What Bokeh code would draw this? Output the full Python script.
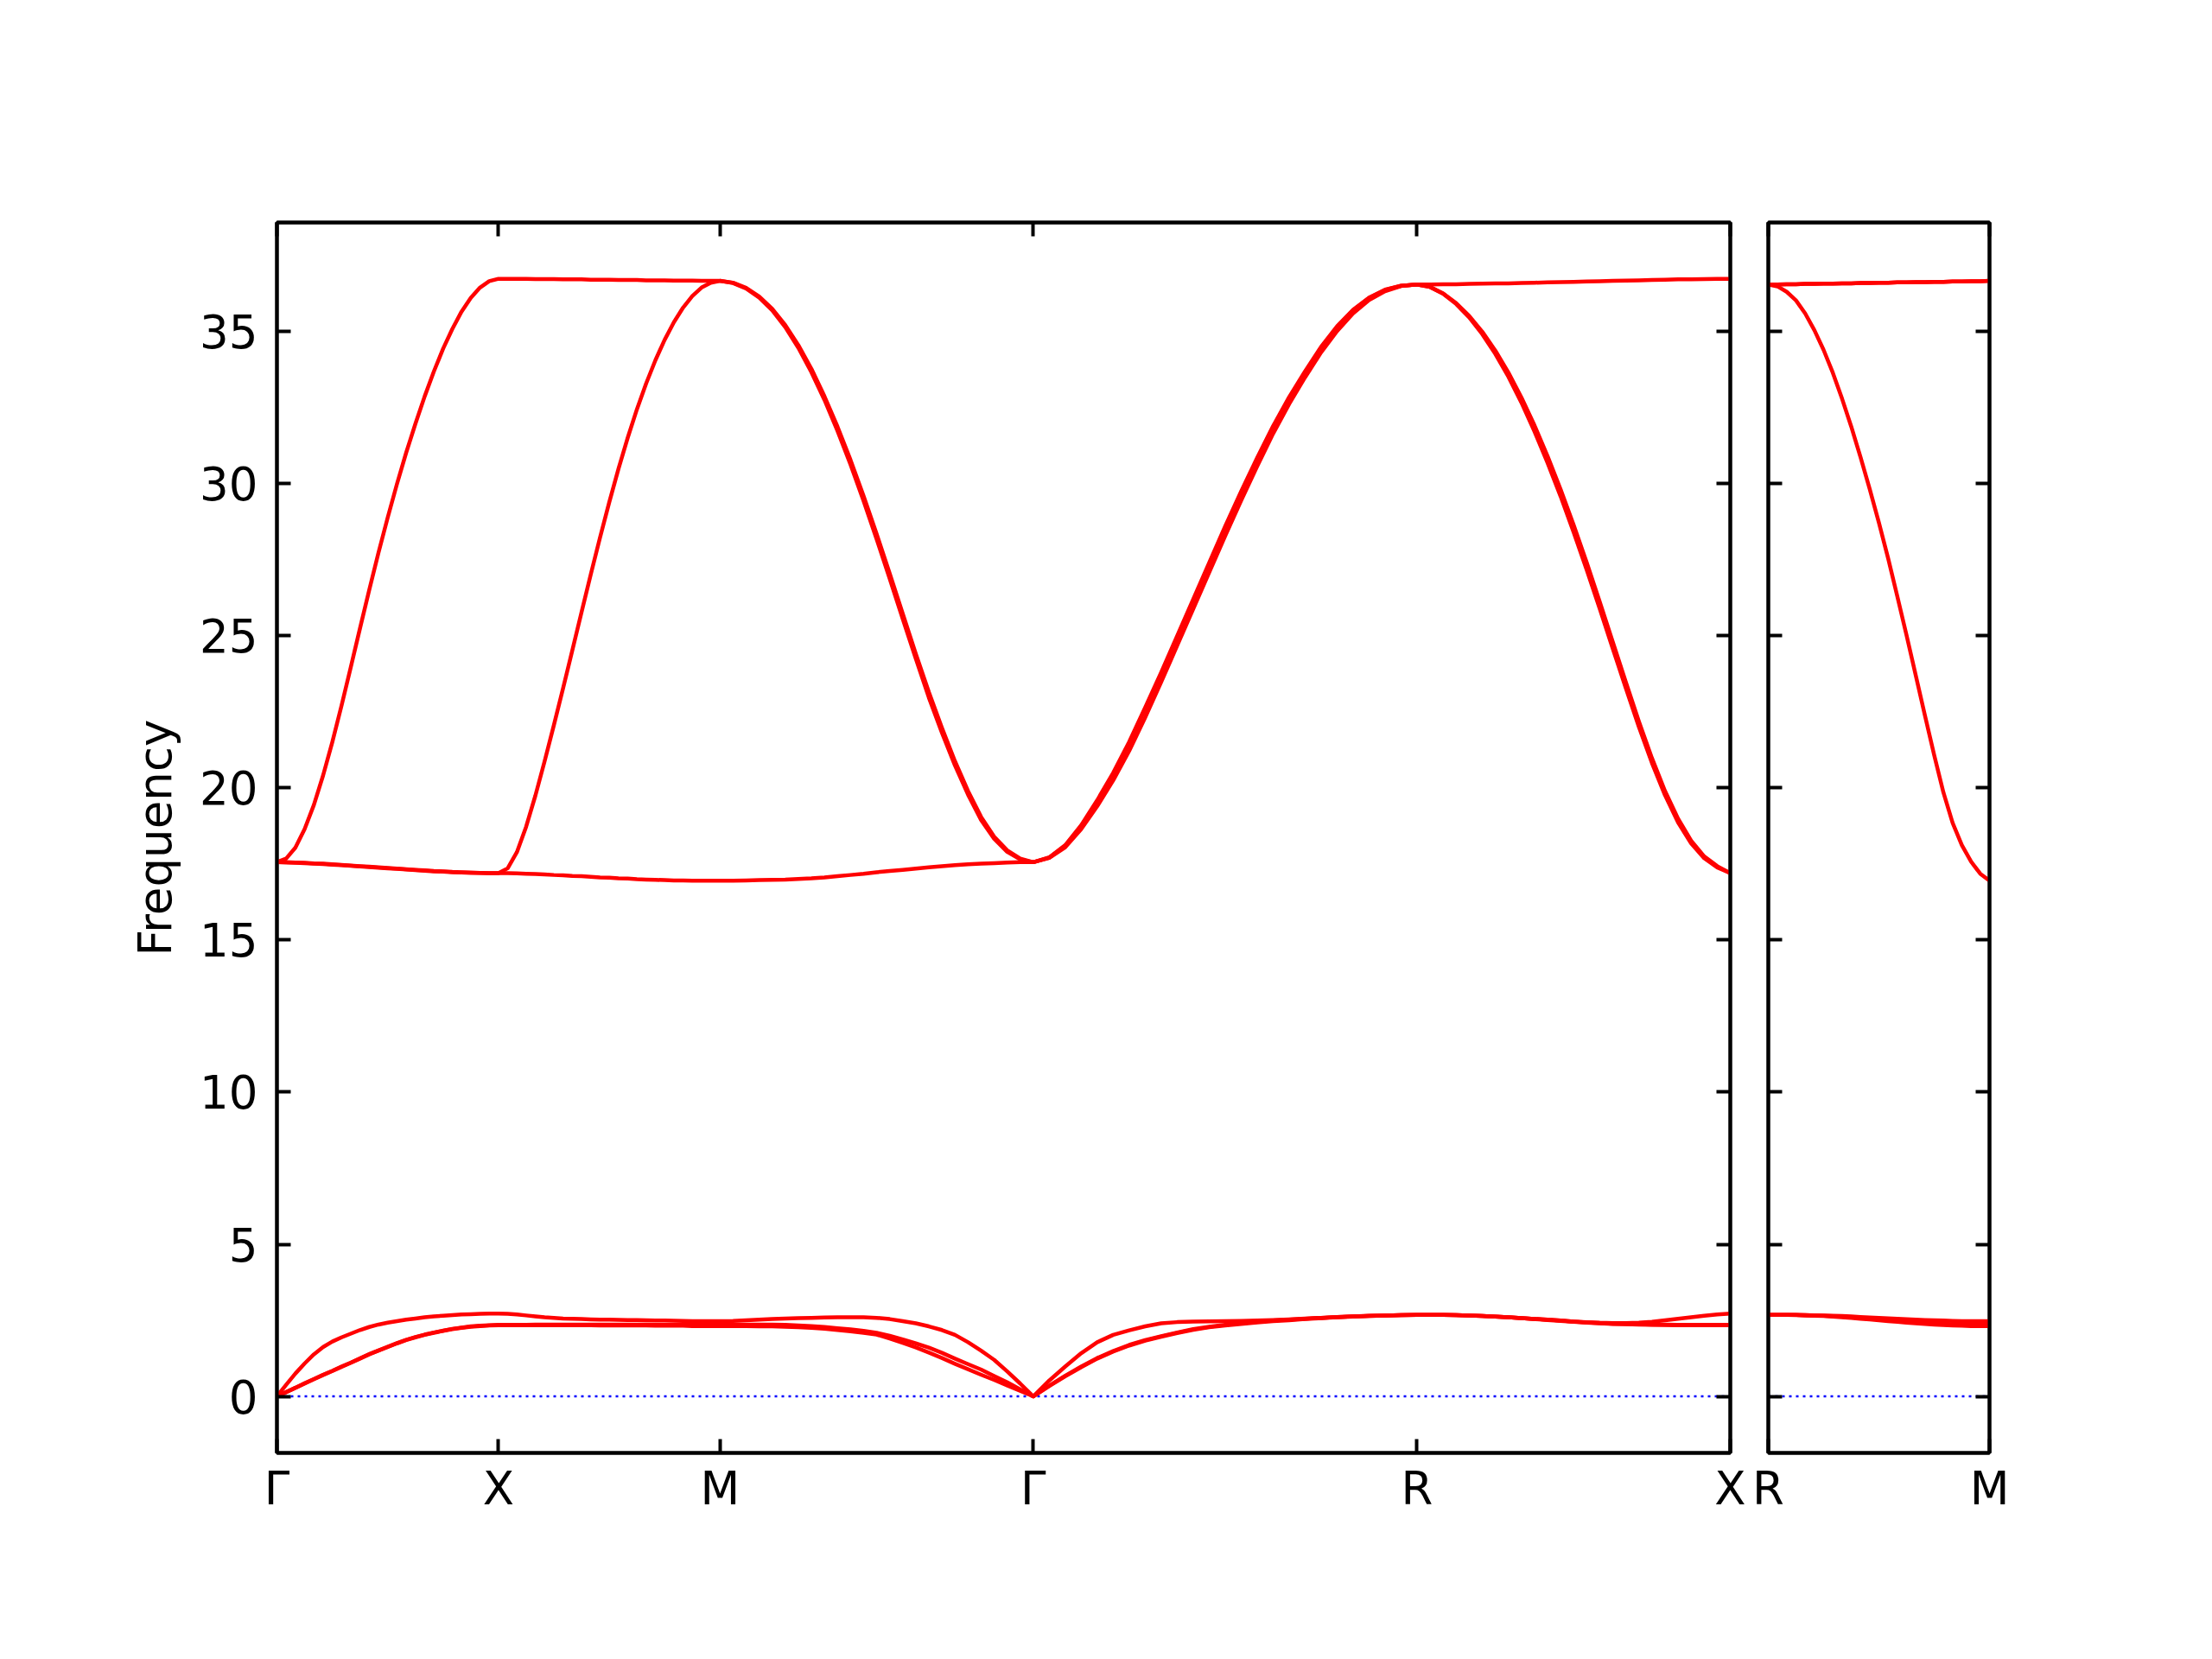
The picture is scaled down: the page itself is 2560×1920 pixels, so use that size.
from bokeh.plotting import figure
from bokeh.models import FixedTicker, Span, LinearAxis
from bokeh.layouts import row
from bokeh.embed import file_html
from bokeh.resources import INLINE

# ---------------- data ----------------
main_labels = ["Γ", "X", "M", "Γ", "R", "X"]
main_kdist = [0.0, 0.5, 1.0, 1.7071, 2.5731, 3.2802]
side_labels = ["R", "M"]
side_kdist = [0.0, 0.5]
q_frac = [0.0, 0.0417, 0.0833, 0.125, 0.1667, 0.2083, 0.25, 0.2917, 0.3333, 0.375, 0.4167, 0.4583,
          0.5, 0.5417, 0.5833, 0.625, 0.6667, 0.7083, 0.75, 0.7917, 0.8333, 0.875, 0.9167, 0.9583, 1.0]
freq_ticks = [0, 5, 10, 15, 20, 25, 30, 35]
zero_freq = 0.0
freq_range = (-1.86, 38.59)
y_label = "Frequency"

# Gamma -> X
gx_ac1 = [0.0, 0.14, 0.28, 0.42, 0.56, 0.70, 0.83, 0.97, 1.10, 1.24, 1.38, 1.50, 1.62, 1.74, 1.85, 1.94, 2.02, 2.09, 2.15, 2.21, 2.25, 2.29, 2.31, 2.33, 2.34]
gx_ac2 = [0.0, 0.14, 0.28, 0.43, 0.57, 0.71, 0.84, 0.98, 1.11, 1.25, 1.39, 1.51, 1.63, 1.75, 1.86, 1.95, 2.03, 2.10, 2.16, 2.22, 2.26, 2.30, 2.32, 2.34, 2.35]
gx_ac3 = [0.0, 0.38, 0.75, 1.08, 1.38, 1.62, 1.80, 1.94, 2.06, 2.18, 2.28, 2.36, 2.42, 2.47, 2.52, 2.56, 2.60, 2.63, 2.65, 2.67, 2.69, 2.70, 2.71, 2.72, 2.72]
gx_op1 = [17.56, 17.55, 17.54, 17.53, 17.51, 17.50, 17.48, 17.46, 17.44, 17.42, 17.40, 17.38, 17.36, 17.34, 17.32, 17.30, 17.28, 17.26, 17.25, 17.23, 17.22, 17.21, 17.21, 17.20, 17.20]
gx_op2 = [17.56, 17.56, 17.55, 17.54, 17.52, 17.51, 17.49, 17.47, 17.45, 17.43, 17.41, 17.39, 17.37, 17.35, 17.33, 17.31, 17.29, 17.27, 17.26, 17.24, 17.23, 17.22, 17.21, 17.20, 17.20]
gx_op3 = [17.56, 17.68, 18.04, 18.65, 19.44, 20.41, 21.51, 22.71, 23.97, 25.25, 26.51, 27.73, 28.89, 29.99, 31.02, 31.97, 32.87, 33.69, 34.44, 35.09, 35.66, 36.11, 36.45, 36.66, 36.74]

# X -> M
xm_ac1 = [2.34, 2.34, 2.34, 2.34, 2.34, 2.34, 2.34, 2.34, 2.34, 2.34, 2.34, 2.33, 2.33, 2.33, 2.33, 2.33, 2.33, 2.32, 2.32, 2.32, 2.32, 2.31, 2.31, 2.31, 2.31]
xm_ac2 = [2.35, 2.35, 2.35, 2.35, 2.36, 2.36, 2.36, 2.36, 2.36, 2.36, 2.36, 2.36, 2.36, 2.36, 2.36, 2.36, 2.36, 2.35, 2.35, 2.35, 2.35, 2.35, 2.35, 2.35, 2.35]
xm_ac3 = [2.72, 2.71, 2.69, 2.66, 2.63, 2.60, 2.58, 2.56, 2.55, 2.54, 2.53, 2.525, 2.52, 2.515, 2.51, 2.505, 2.50, 2.495, 2.49, 2.485, 2.48, 2.475, 2.47, 2.47, 2.47]
xm_op1 = [17.20, 17.20, 17.19, 17.18, 17.17, 17.16, 17.14, 17.13, 17.11, 17.10, 17.08, 17.06, 17.05, 17.03, 17.02, 17.00, 16.99, 16.98, 16.97, 16.96, 16.96, 16.95, 16.95, 16.95, 16.95]
xm_op2 = [17.20, 17.36, 17.89, 18.73, 19.75, 20.88, 22.06, 23.28, 24.52, 25.78, 27.02, 28.23, 29.39, 30.49, 31.51, 32.45, 33.30, 34.06, 34.73, 35.31, 35.79, 36.17, 36.45, 36.61, 36.67]
xm_op3 = [36.74, 36.74, 36.74, 36.74, 36.73, 36.73, 36.73, 36.72, 36.72, 36.72, 36.71, 36.71, 36.71, 36.70, 36.70, 36.70, 36.69, 36.69, 36.69, 36.68, 36.68, 36.68, 36.67, 36.67, 36.67]

# M -> Gamma
mg_ac1 = [2.31, 2.31, 2.31, 2.30, 2.30, 2.29, 2.27, 2.25, 2.22, 2.18, 2.14, 2.09, 2.03, 1.90, 1.76, 1.61, 1.44, 1.26, 1.07, 0.89, 0.71, 0.54, 0.36, 0.18, 0.0]
mg_ac2 = [2.35, 2.355, 2.36, 2.36, 2.36, 2.35, 2.33, 2.31, 2.28, 2.24, 2.20, 2.15, 2.09, 1.99, 1.87, 1.74, 1.60, 1.43, 1.24, 1.06, 0.88, 0.67, 0.46, 0.23, 0.0]
mg_ac3 = [2.47, 2.48, 2.50, 2.52, 2.54, 2.56, 2.57, 2.58, 2.59, 2.60, 2.60, 2.60, 2.58, 2.54, 2.47, 2.40, 2.30, 2.18, 2.02, 1.78, 1.50, 1.20, 0.82, 0.42, 0.0]
mg_op1 = [16.95, 16.95, 16.96, 16.97, 16.98, 16.99, 17.01, 17.03, 17.06, 17.10, 17.14, 17.18, 17.23, 17.27, 17.31, 17.35, 17.39, 17.43, 17.46, 17.49, 17.51, 17.53, 17.55, 17.56, 17.56]
mg_op2 = [36.67, 36.60, 36.42, 36.12, 35.70, 35.15, 34.47, 33.67, 32.76, 31.74, 30.63, 29.44, 28.18, 26.88, 25.56, 24.25, 22.97, 21.82, 20.74, 19.78, 18.95, 18.33, 17.90, 17.65, 17.56]
mg_op3 = [36.67, 36.61, 36.44, 36.16, 35.75, 35.22, 34.56, 33.78, 32.88, 31.88, 30.78, 29.60, 28.35, 27.05, 25.73, 24.41, 23.15, 21.98, 20.88, 19.90, 19.05, 18.40, 17.95, 17.68, 17.56]

# Gamma -> R
gr_ac1 = [0.0, 0.34, 0.66, 0.96, 1.24, 1.47, 1.67, 1.83, 1.96, 2.08, 2.19, 2.27, 2.33, 2.38, 2.43, 2.47, 2.50, 2.54, 2.57, 2.60, 2.62, 2.64, 2.66, 2.67, 2.68]
gr_ac2 = [0.0, 0.35, 0.68, 0.98, 1.26, 1.49, 1.69, 1.85, 1.98, 2.10, 2.21, 2.29, 2.35, 2.40, 2.45, 2.49, 2.52, 2.55, 2.58, 2.61, 2.63, 2.65, 2.66, 2.67, 2.68]
gr_ac3 = [0.0, 0.52, 0.98, 1.42, 1.78, 2.02, 2.17, 2.30, 2.40, 2.44, 2.46, 2.465, 2.47, 2.48, 2.49, 2.51, 2.53, 2.555, 2.58, 2.605, 2.63, 2.645, 2.66, 2.67, 2.68]
gr_op1 = [17.56, 17.70, 18.05, 18.65, 19.40, 20.25, 21.22, 22.32, 23.48, 24.68, 25.88, 27.08, 28.28, 29.45, 30.57, 31.65, 32.62, 33.50, 34.32, 35.02, 35.60, 36.04, 36.33, 36.50, 36.55]
gr_op2 = [17.56, 17.71, 18.10, 18.75, 19.56, 20.45, 21.46, 22.59, 23.74, 24.94, 26.14, 27.34, 28.54, 29.69, 30.80, 31.85, 32.80, 33.66, 34.46, 35.15, 35.70, 36.11, 36.37, 36.51, 36.55]
gr_op3 = [17.56, 17.72, 18.12, 18.78, 19.60, 20.50, 21.52, 22.65, 23.80, 25.00, 26.20, 27.40, 28.60, 29.75, 30.85, 31.90, 32.85, 33.70, 34.50, 35.18, 35.72, 36.12, 36.38, 36.51, 36.55]

# R -> X
rx_ac1 = [2.68, 2.68, 2.68, 2.67, 2.66, 2.64, 2.62, 2.60, 2.57, 2.54, 2.51, 2.48, 2.45, 2.42, 2.40, 2.38, 2.37, 2.36, 2.35, 2.345, 2.34, 2.34, 2.34, 2.34, 2.34]
rx_ac2 = [2.68, 2.68, 2.68, 2.67, 2.66, 2.64, 2.62, 2.60, 2.57, 2.545, 2.52, 2.49, 2.46, 2.43, 2.41, 2.39, 2.38, 2.37, 2.36, 2.355, 2.35, 2.35, 2.35, 2.35, 2.35]
rx_ac3 = [2.68, 2.68, 2.68, 2.67, 2.66, 2.64, 2.62, 2.60, 2.57, 2.545, 2.52, 2.49, 2.46, 2.44, 2.42, 2.41, 2.41, 2.42, 2.45, 2.50, 2.55, 2.60, 2.65, 2.69, 2.72]
rx_op1 = [36.55, 36.47, 36.25, 35.91, 35.47, 34.92, 34.27, 33.52, 32.67, 31.72, 30.69, 29.59, 28.41, 27.17, 25.89, 24.58, 23.28, 22.01, 20.82, 19.76, 18.87, 18.18, 17.69, 17.39, 17.20]
rx_op2 = [36.55, 36.47, 36.26, 35.94, 35.52, 35.00, 34.38, 33.66, 32.84, 31.92, 30.91, 29.82, 28.65, 27.41, 26.12, 24.80, 23.48, 22.19, 20.98, 19.90, 18.99, 18.27, 17.75, 17.43, 17.20]
rx_op3 = [36.55, 36.55, 36.56, 36.56, 36.57, 36.58, 36.59, 36.59, 36.60, 36.61, 36.62, 36.63, 36.64, 36.65, 36.66, 36.67, 36.68, 36.69, 36.70, 36.71, 36.72, 36.72, 36.73, 36.74, 36.74]

# R -> M (side panel)
rm_ac1 = [2.68, 2.68, 2.68, 2.67, 2.66, 2.65, 2.64, 2.62, 2.60, 2.575, 2.55, 2.525, 2.50, 2.475, 2.45, 2.425, 2.40, 2.38, 2.36, 2.345, 2.33, 2.32, 2.31, 2.31, 2.31]
rm_ac2 = [2.68, 2.68, 2.68, 2.675, 2.67, 2.66, 2.65, 2.635, 2.62, 2.60, 2.58, 2.555, 2.53, 2.505, 2.48, 2.46, 2.44, 2.42, 2.40, 2.385, 2.37, 2.36, 2.35, 2.35, 2.35]
rm_ac3 = [2.68, 2.68, 2.68, 2.675, 2.67, 2.665, 2.66, 2.65, 2.64, 2.625, 2.61, 2.595, 2.58, 2.565, 2.55, 2.535, 2.52, 2.51, 2.50, 2.49, 2.48, 2.475, 2.47, 2.47, 2.47]
rm_op1 = [36.55, 36.49, 36.31, 36.03, 35.60, 35.05, 34.40, 33.65, 32.80, 31.88, 30.88, 29.83, 28.72, 27.55, 26.30, 25.02, 23.70, 22.38, 21.08, 19.85, 18.85, 18.12, 17.58, 17.18, 16.95]
rm_op2 = [36.55, 36.55, 36.56, 36.56, 36.57, 36.57, 36.58, 36.58, 36.59, 36.59, 36.60, 36.60, 36.61, 36.61, 36.62, 36.62, 36.63, 36.63, 36.64, 36.64, 36.65, 36.65, 36.66, 36.66, 36.67]
rm_op3 = [36.55, 36.55, 36.56, 36.56, 36.57, 36.57, 36.58, 36.58, 36.59, 36.59, 36.60, 36.60, 36.61, 36.61, 36.62, 36.62, 36.63, 36.63, 36.64, 36.64, 36.65, 36.65, 36.66, 36.66, 36.67]

main_segments = [
    [gx_ac1, gx_ac2, gx_ac3, gx_op1, gx_op2, gx_op3],
    [xm_ac1, xm_ac2, xm_ac3, xm_op1, xm_op2, xm_op3],
    [mg_ac1, mg_ac2, mg_ac3, mg_op1, mg_op2, mg_op3],
    [gr_ac1, gr_ac2, gr_ac3, gr_op1, gr_op2, gr_op3],
    [rx_ac1, rx_ac2, rx_ac3, rx_op1, rx_op2, rx_op3],
]
side_segments = [
    [rm_ac1, rm_ac2, rm_ac3, rm_op1, rm_op2, rm_op3],
]

# ---------------- style ----------------
FONT = "DejaVu Sans"
FS = "53px"
BAND_COLOR = "#ff0000"
BAND_W = 4.5
FRAME_TOP = 257
FRAME_H = 1424
BORDER_BOTTOM = 150
HEIGHT = FRAME_TOP + FRAME_H + BORDER_BOTTOM


def style_axis(ax, show_labels):
    ax.major_tick_in = 16
    ax.major_tick_out = 0
    ax.minor_tick_line_color = None
    ax.major_tick_line_width = 4
    ax.major_tick_line_color = "black"
    ax.axis_line_width = 4
    ax.axis_line_color = "black"
    ax.major_label_text_font = FONT
    ax.major_label_text_color = "black"
    if show_labels:
        ax.major_label_text_font_size = FS
    else:
        ax.major_label_text_font_size = "0px"
        ax.major_label_standoff = 0


def build_bands(p, kdist, segments):
    nb = len(segments[0])
    for b in range(nb):
        xs, ys = [], []
        for i, seg in enumerate(segments):
            k0, k1 = kdist[i], kdist[i + 1]
            xs.extend(k0 + f * (k1 - k0) for f in q_frac)
            ys.extend(seg[b])
        p.line(xs, ys, line_color=BAND_COLOR, line_width=BAND_W, line_join="round")


def make_panel(kdist, labels, segments, width, b_left, b_right, show_ylabels):
    p = figure(width=width, height=HEIGHT,
               x_range=(kdist[0], kdist[-1]), y_range=freq_range,
               output_backend="svg", toolbar_location=None,
               min_border_left=b_left, min_border_right=b_right,
               min_border_top=FRAME_TOP, min_border_bottom=BORDER_BOTTOM)
    p.xgrid.visible = False
    p.ygrid.visible = False
    p.outline_line_color = "black"
    p.outline_line_width = 4
    p.background_fill_color = "white"
    p.border_fill_color = "white"

    overrides = {k: lab for k, lab in zip(kdist, labels)}

    # bottom axis
    xa = p.xaxis[0]
    xa.ticker = FixedTicker(ticks=kdist)
    xa.major_label_overrides = overrides
    style_axis(xa, True)
    xa.major_label_standoff = 10

    # top axis
    top = LinearAxis(ticker=FixedTicker(ticks=kdist))
    style_axis(top, False)
    top.major_label_overrides = {k: "" for k in kdist}
    p.add_layout(top, "above")

    # left axis
    ya = p.yaxis[0]
    ya.ticker = FixedTicker(ticks=freq_ticks)
    style_axis(ya, show_ylabels)
    if show_ylabels:
        ya.major_label_standoff = 22
        ya.axis_label = y_label
        ya.axis_label_text_font = FONT
        ya.axis_label_text_font_size = FS
        ya.axis_label_text_font_style = "normal"
        ya.axis_label_text_color = "black"
        ya.axis_label_standoff = 18
    else:
        ya.major_label_overrides = {t: "" for t in freq_ticks}

    # right axis
    right = LinearAxis(ticker=FixedTicker(ticks=freq_ticks))
    style_axis(right, False)
    right.major_label_overrides = {t: "" for t in freq_ticks}
    p.add_layout(right, "right")

    zero = Span(location=zero_freq, dimension="width", line_color="#0000ff",
                line_width=2.7, line_dash="3 5", level="underlay")
    p.add_layout(zero)

    build_bands(p, kdist, segments)
    return p


p1 = make_panel(main_kdist, main_labels, main_segments,
                width=320 + 1682 + 22, b_left=320, b_right=22, show_ylabels=True)
p2 = make_panel(side_kdist, side_labels, side_segments,
                width=22 + 256 + 60, b_left=22, b_right=60, show_ylabels=False)

layout = row(p1, p2)
open("out.html", "w").write(file_html(layout, INLINE))
